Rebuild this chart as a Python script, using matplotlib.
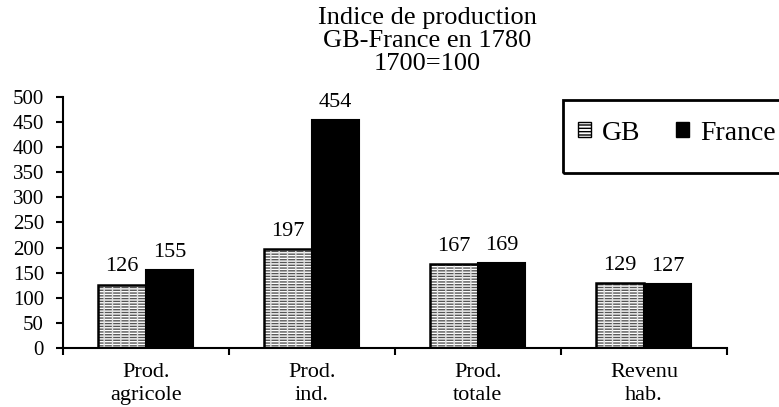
import numpy as np
import matplotlib
matplotlib.use("Agg")
from matplotlib import pyplot as plt
from matplotlib.patches import Patch, Rectangle

categories = ["Prod.\nagricole", "Prod.\nind.", "Prod.\ntotale", "Revenu\nhab."]
gb = [126, 197, 167, 129]
france = [155, 454, 169, 127]
yticks = [0, 50, 100, 150, 200, 250, 300, 350, 400, 450, 500]

plt.rcParams['font.family'] = ['Liberation Serif', 'DejaVu Serif']
plt.rcParams['hatch.linewidth'] = 1.0

W, H = 779, 407
fig = plt.figure(figsize=(W / 100, H / 100), dpi=100)
ax = fig.add_axes([62.7 / W, 1 - 348 / H, (727 - 62.7) / W, (348 - 97) / H])

x = np.arange(len(categories))
w = 0.286

# GB: grey stripes, then white dashes, then black outline
ax.bar(x - w / 2, gb, w, color='white', edgecolor='#555555', hatch='------', linewidth=0)
ax.bar(x - w / 2, gb, w, fill=False, edgecolor='#e0e0e0', hatch='||', linewidth=0)
ax.bar(x - w / 2, gb, w, fill=False, edgecolor='black', linewidth=1.8)
ax.bar(x + w / 2, france, w, color='black', edgecolor='black', linewidth=1.5)

for xi, v in zip(x - w / 2, gb):
    ax.annotate(str(v), (xi, v), xytext=(0, 6), textcoords='offset points',
                ha='center', va='bottom', fontsize=16)
for xi, v in zip(x + w / 2, france):
    ax.annotate(str(v), (xi, v), xytext=(0, 6), textcoords='offset points',
                ha='center', va='bottom', fontsize=16)

ax.set_xlim(-0.5, len(categories) - 0.5)
ax.set_ylim(0, 500)
ax.set_yticks(yticks)
ax.set_xticks(np.arange(len(categories) + 1) - 0.5)
ax.set_xticklabels([])
ax.set_xticks(x, minor=True)
ax.set_xticklabels(categories, minor=True, fontsize=16, linespacing=1.25)
ax.tick_params(axis='x', which='minor', length=0, pad=11)
ax.tick_params(axis='x', which='major', length=5, width=1.5, direction='out')
ax.tick_params(axis='y', length=5, width=1.5, direction='out', pad=8.5, labelsize=15)

for s in ['top', 'right']:
    ax.spines[s].set_visible(False)
for s in ['left', 'bottom']:
    ax.spines[s].set_linewidth(1.5)

fig.text(427 / W, 1 - 7 / H, "Indice de production\nGB-France en 1780\n1700=100",
         ha='center', va='top', fontsize=19, linespacing=1.05)

# legend box, cut by the right edge like in the original
fig.patches.append(Rectangle((563 / W, 1 - 173 / H), 240 / W, 73 / H,
                             transform=fig.transFigure, fill=False,
                             edgecolor='black', linewidth=2))
handles = [Patch(facecolor='white', edgecolor='black', hatch='-----', label='GB'),
           Patch(facecolor='black', edgecolor='black', label='France')]
fig.legend(handles=handles, loc='center left', bbox_to_anchor=(578 / W, 1 - 133 / H),
           ncol=2, frameon=False, fontsize=20, handlelength=0.45, handleheight=0.45,
           handletextpad=0.4, columnspacing=1.3, borderpad=0, borderaxespad=0)

fig.savefig("out.png", dpi=100)
